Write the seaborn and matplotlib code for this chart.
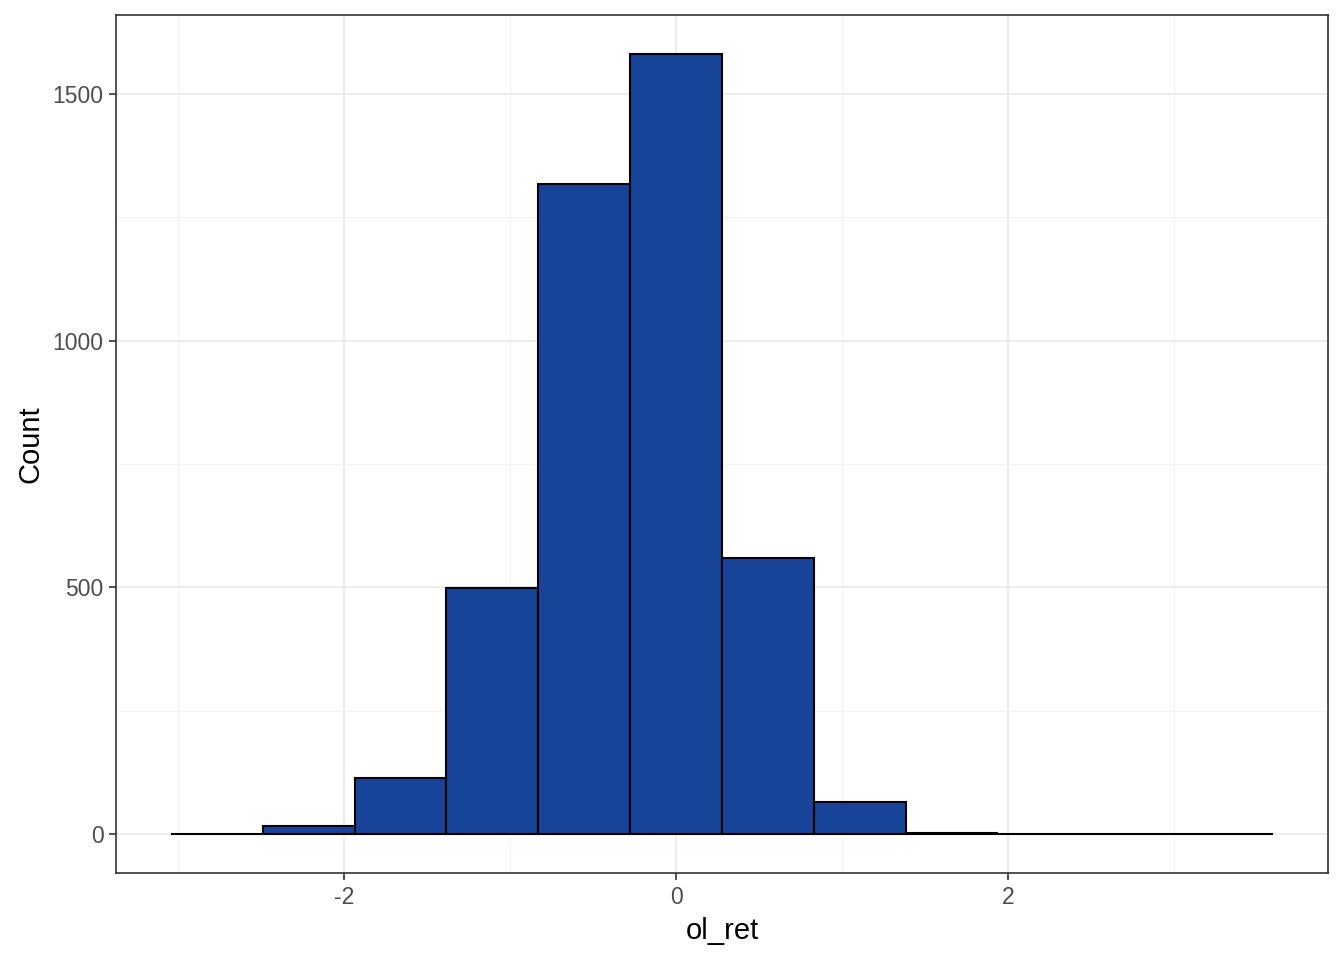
import numpy as np
import pandas as pd
import matplotlib
matplotlib.use("Agg")
import matplotlib.pyplot as plt
import seaborn as sns

# Data: histogram of ol_ret (12 bins, width ~0.553, centred on 0)
bin_width = 0.5535
bin_centers = [-2.767, -2.214, -1.660, -1.107, -0.553, 0.0, 0.553, 1.107, 1.660, 2.214, 2.767, 3.321]
counts = [1, 16, 113, 498, 1318, 1581, 559, 65, 3, 0, 0, 1]

df = pd.DataFrame({"ol_ret": bin_centers, "count": counts})
edges = [float(c - bin_width / 2) for c in bin_centers] + [float(bin_centers[-1] + bin_width / 2)]

sns.set_theme(style="white")
plt.rcParams["font.family"] = ["Liberation Sans", "DejaVu Sans"]

fig, ax = plt.subplots(figsize=(13.44, 9.6), dpi=100)
sns.histplot(data=df, x="ol_ret", weights="count", bins=edges, ax=ax,
             color="#174499", edgecolor="black", linewidth=1.5, alpha=1)

xmin, xmax = edges[0], edges[-1]
xr = xmax - xmin
ax.set_xlim(xmin - 0.05 * xr, xmax + 0.05 * xr)
ymax = max(counts)
ax.set_ylim(-0.05 * ymax, ymax * 1.05)

ax.set_xticks([-2, 0, 2])
ax.set_xticklabels(["-2", "0", "2"])
ax.set_yticks([0, 500, 1000, 1500])
ax.set_xticks([-3, -1, 1, 3], minor=True)
ax.set_yticks([250, 750, 1250], minor=True)
ax.grid(True, which="major", color="#EBEBEB", linewidth=1.3)
ax.grid(True, which="minor", color="#F2F2F2", linewidth=0.8)
ax.set_axisbelow(True)

for s in ax.spines.values():
    s.set_color("#333333")
    s.set_linewidth(1.2)
ax.tick_params(axis="both", which="major", length=5, width=1.2, color="#333333",
               labelsize=16.5, labelcolor="#4D4D4D", bottom=True, left=True, pad=4)
ax.tick_params(axis="both", which="minor", length=0)

ax.set_xlabel("ol_ret", fontsize=21, color="black", labelpad=6)
ax.set_ylabel("Count", fontsize=21, color="black", labelpad=6)

fig.subplots_adjust(left=116 / 1344, right=1328 / 1344, top=1 - 15 / 960, bottom=1 - 873 / 960)
fig.savefig("out.png", dpi=100)
